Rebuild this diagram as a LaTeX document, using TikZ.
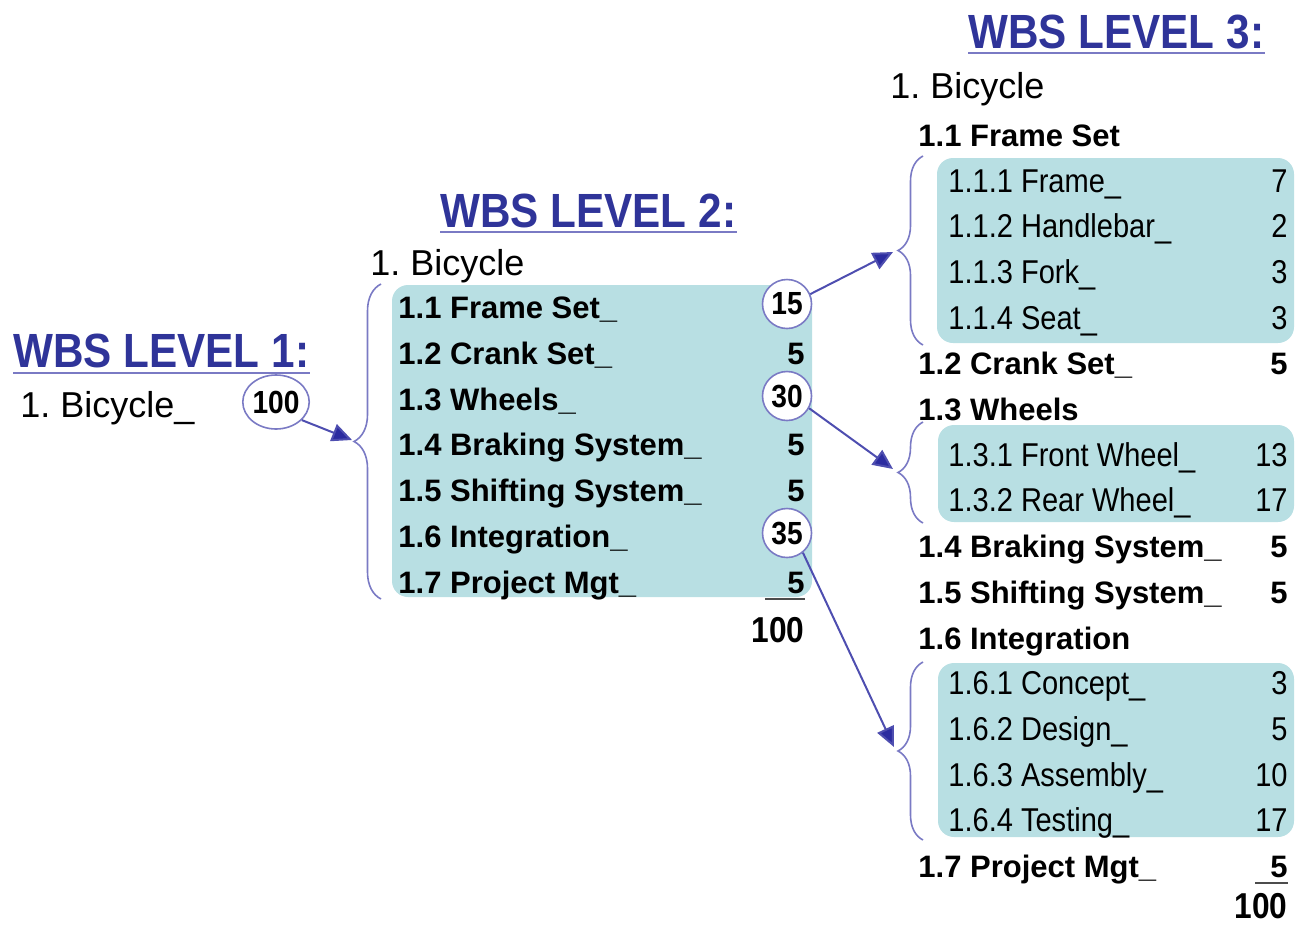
\documentclass[tikz,border=0pt]{standalone}
\usepackage{fontspec}
\setmainfont{Liberation Sans}[FakeStretch=0.88]
\newfontfamily\wbsplain{Liberation Sans}
\frenchspacing
\usetikzlibrary{positioning, arrows.meta, calc, decorations.pathreplacing, shapes.geometric}
\definecolor{wbsTitle}{HTML}{2F3499}
\definecolor{wbsLine}{HTML}{7A7AC4}
\definecolor{wbsArrow}{HTML}{4E4EB0}
\definecolor{wbsHead}{HTML}{2C2CA0}
\definecolor{wbsBox}{HTML}{B8DFE3}

\begin{document}
\begin{tikzpicture}[x=0.5pt, y=-0.5pt, ttl/.style={font=\fontsize{24}{24}\selectfont\bfseries, text=wbsTitle, inner sep=0pt, anchor=base west},hd/.style={font=\wbsplain\fontsize{18}{18}\selectfont, inner sep=0pt, anchor=base west},row/.style={font=\wbsplain\fontsize{15.5}{15.5}\selectfont\bfseries, inner sep=0pt, anchor=base west},sub/.style={font=\fontsize{16.5}{16.5}\selectfont, inner sep=0pt, anchor=base west},num/.style={row, anchor=base east},subnum/.style={sub, anchor=base east},tot/.style={font=\fontsize{18}{18}\selectfont\bfseries, inner sep=0pt, anchor=base east},circ/.style={circle, draw=wbsLine, fill=white, line width=0.8pt, minimum size=24.5pt, inner sep=0pt, font=\fontsize{16}{16}\selectfont\bfseries},uline/.style={line width=1pt, color=wbsLine},sumln/.style={line width=1pt, color=black!70},brc/.style={decorate, decoration={brace, amplitude=#1}, line width=0.8pt, color=wbsLine},arr/.style={-{Triangle[length=10pt, width=9pt, fill=wbsHead]}, line width=1pt, color=wbsArrow}]
\useasboundingbox (0,0) rectangle (1295,927);
% teal backgrounds
\fill[wbsBox, rounded corners=8pt] (392,285) rectangle (812,597);
\fill[wbsBox, rounded corners=8pt] (937,158) rectangle (1294,343);
\fill[wbsBox, rounded corners=8pt] (938,425) rectangle (1294,522);
\fill[wbsBox, rounded corners=8pt] (938,663) rectangle (1294,837);
% level 1
\node[ttl] (l1ttl) at (13,367) {WBS LEVEL 1:};
\draw[uline] ([yshift=-2.5pt]l1ttl.south west) -- ([yshift=-2.5pt]l1ttl.south east);
\node[hd] (l1bike) at (20,417) {1. Bicycle\_};
\node[circ, ellipse, minimum width=29pt, minimum height=27pt] (c100) at (276,402) {100};
% level 2
\node[ttl] (l2ttl) at (440,227) {WBS LEVEL 2:};
\draw[uline] ([yshift=-2pt]l2ttl.south west) -- ([yshift=-2pt]l2ttl.south east);
\node[hd] (l2bike) at (370,275) {1. Bicycle};
\node[row] (r11) at (398,318) {1.1 Frame Set\_};
\node[row] (r12) at (398,364) {1.2 Crank Set\_};
\node[row] (r13) at (398,410) {1.3 Wheels\_};
\node[row] (r14) at (398,455) {1.4 Braking System\_};
\node[row] (r15) at (398,501) {1.5 Shifting System\_};
\node[row] (r16) at (398,547) {1.6 Integration\_};
\node[row] (r17) at (398,593) {1.7 Project Mgt\_};
\node[circ] (n11) at (787,304) {15};
\node[num] (n12) at (805,364) {5};
\node[circ] (n13) at (787,396) {30};
\node[num] (n14) at (805,455) {5};
\node[num] (n15) at (805,501) {5};
\node[circ] (n16) at (787,533) {35};
\node[num] (n17) at (805,593) {5};
\draw[sumln] ([xshift=-20pt, yshift=-3pt]n17.base east) -- ([yshift=-3pt]n17.base east);
\node[tot] (l2tot) at (805,642) {100};
% level 3
\node[ttl] (l3ttl) at (968,48) {WBS LEVEL 3:};
\draw[uline] ([yshift=-2pt]l3ttl.south west) -- ([yshift=-2pt]l3ttl.south east);
\node[hd] (l3bike) at (890,98) {1. Bicycle};
\node[row] (s11) at (918,146) {1.1 Frame Set};
\node[sub] (s111) at (948,192) {1.1.1 Frame\_};
\node[sub] (s112) at (948,237) {1.1.2 Handlebar\_};
\node[sub] (s113) at (948,283) {1.1.3 Fork\_};
\node[sub] (s114) at (948,329) {1.1.4 Seat\_};
\node[row] (s12) at (918,374) {1.2 Crank Set\_};
\node[row] (s13) at (918,420) {1.3 Wheels};
\node[sub] (s131) at (948,466) {1.3.1 Front Wheel\_};
\node[sub] (s132) at (948,511) {1.3.2 Rear Wheel\_};
\node[row] (s14) at (918,557) {1.4 Braking System\_};
\node[row] (s15) at (918,603) {1.5 Shifting System\_};
\node[row] (s16) at (918,649) {1.6 Integration};
\node[sub] (s161) at (948,694) {1.6.1 Concept\_};
\node[sub] (s162) at (948,740) {1.6.2 Design\_};
\node[sub] (s163) at (948,786) {1.6.3 Assembly\_};
\node[sub] (s164) at (948,831) {1.6.4 Testing\_};
\node[row] (s17) at (918,877) {1.7 Project Mgt\_};
\node[subnum] (m111) at (1288,192) {7};
\node[subnum] (m112) at (1288,237) {2};
\node[subnum] (m113) at (1288,283) {3};
\node[subnum] (m114) at (1288,329) {3};
\node[num] (m12) at (1288,374) {5};
\node[subnum] (m131) at (1288,466) {13};
\node[subnum] (m132) at (1288,511) {17};
\node[num] (m14) at (1288,557) {5};
\node[num] (m15) at (1288,603) {5};
\node[subnum] (m161) at (1288,694) {3};
\node[subnum] (m162) at (1288,740) {5};
\node[subnum] (m163) at (1288,786) {10};
\node[subnum] (m164) at (1288,831) {17};
\node[num] (m17) at (1288,877) {5};
\draw[sumln] ([xshift=-16.5pt, yshift=-3pt]m17.base east) -- ([yshift=-3pt]m17.base east);
\node[tot] (l3tot) at (1288,918) {100};
% braces
\coordinate (b2top) at (381,284); \coordinate (b2bot) at (381,599);
\coordinate (b31top) at (923,156); \coordinate (b31bot) at (923,345);
\coordinate (b33top) at (923,422); \coordinate (b33bot) at (923,523);
\coordinate (b36top) at (923,662); \coordinate (b36bot) at (923,840);
\draw[brc=13.5pt] (b2bot) -- (b2top);
\draw[brc=12.5pt] (b31bot) -- (b31top);
\draw[brc=12.5pt] (b33bot) -- (b33top);
\draw[brc=12.5pt] (b36bot) -- (b36top);
% arrows to the brace tips
\coordinate (t2) at (352,440);
\coordinate (t31) at (893,252);
\coordinate (t33) at (893,469);
\coordinate (t36) at (894,747);
\draw[arr] (c100.-35) -- (t2);
\draw[arr] (n11.23) -- (t31);
\draw[arr] (n13.-29) -- (t33);
\draw[arr] (n16.-51) -- (t36);
\end{tikzpicture}
\end{document}
